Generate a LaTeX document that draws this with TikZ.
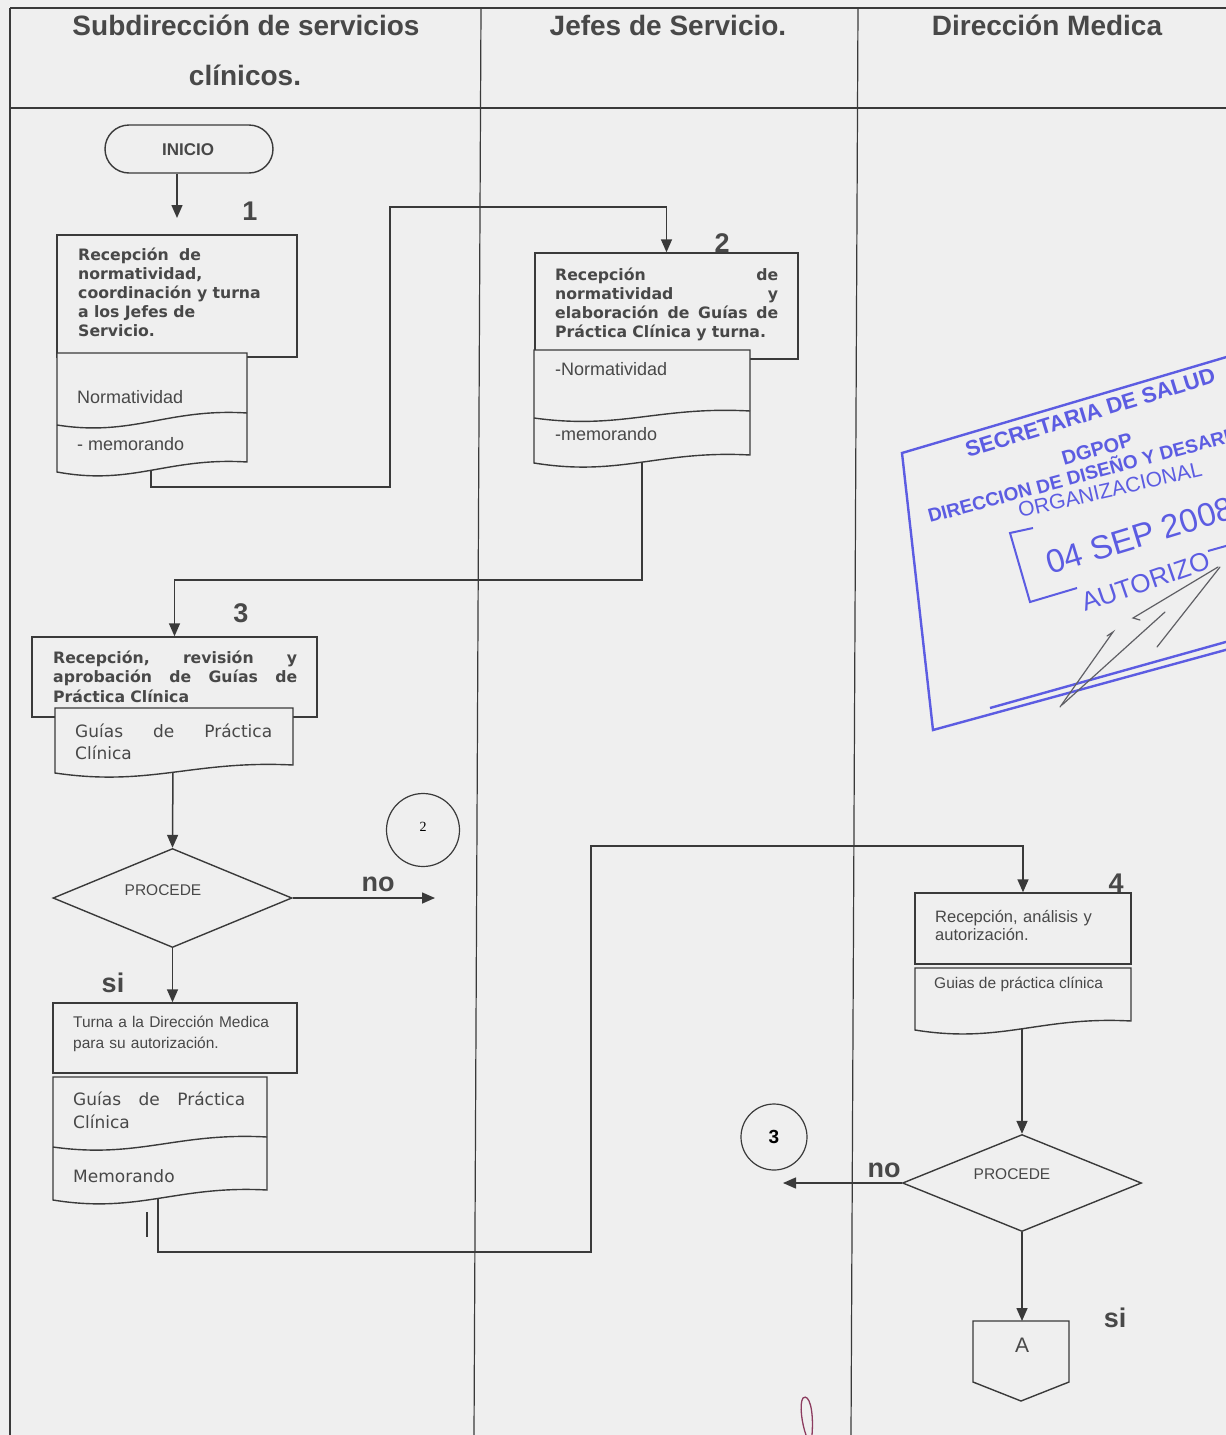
\documentclass[tikz,border=0pt]{standalone}
\usepackage{fontspec}
\setmainfont{Liberation Sans}
\newfontfamily\dejavu{DejaVu Sans}
\newfontfamily\libserif{Liberation Serif}
\usetikzlibrary{shapes.geometric,arrows.meta}
\definecolor{paper}{RGB}{239,239,239}
\definecolor{ink}{RGB}{58,58,58}
\definecolor{txt}{RGB}{72,72,72}
\definecolor{stampblue}{RGB}{92,92,226}
\definecolor{pencil}{RGB}{95,95,100}
\definecolor{redpen}{RGB}{140,60,95}
\pgfdeclarelayer{back}
\pgfsetlayers{back,main}
\newcommand\fsz[2]{\fontsize{#1}{#2}\selectfont}
\newcommand\jline[2]{\leavevmode\hbox to #1{#2}}
\newcommand\docshape[5]{\path[shp] (#1,#3) -- (#2,#3) -- (#2,#5) .. controls ({#2-0.42*(#2-#1)},{#5-5}) and ({#1+0.4*(#2-#1)},{#4+14}) .. (#1,#4) -- cycle;}
\newcommand\docdiv[4]{\draw[shpline] (#1,#3) .. controls ({#1+0.4*(#2-#1)},{#3+12}) and ({#2-0.42*(#2-#1)},{#4-5}) .. (#2,#4);}
\begin{document}
\begin{tikzpicture}[x=1pt,y=-1pt,
  shp/.style={draw=ink,line width=1.4pt,fill=paper},
  shpline/.style={draw=ink,line width=1.4pt},
  conn/.style={draw=ink,line width=1.5pt,-{Triangle[length=13pt,width=11pt]}},
  plain/.style={draw=ink,line width=1.5pt},
  grid/.style={draw=ink,line width=1.2pt},
  hdr/.style={font=\bfseries\fsz{28}{34},text=txt,inner sep=0},
  lbl/.style={font=\bfseries\fsz{27}{30},text=txt,inner sep=0},
  boldtxt/.style={font=\dejavu\bfseries\fsz{15.7}{19},text=txt,inner sep=0,align=left,anchor=base west},
  vertxt/.style={font=\dejavu\fsz{17}{22},text=txt,inner sep=0,align=left,anchor=base west},
  ariatxt/.style={font=\fsz{18}{21},text=txt,inner sep=0,align=left,anchor=base west},
  smalltxt/.style={font=\fsz{15.5}{21},text=txt,inner sep=0,align=left,anchor=base west},
  stamp/.style={text=stampblue,inner sep=0,anchor=base west},
  sig/.style={draw=pencil,line width=1.2pt,line cap=round},
  stline/.style={draw=stampblue,line width=2.4pt}]
\useasboundingbox (0,0) rectangle (1226,1435);

% ---------------- nodes (shapes) ----------------
\node[shp,rounded corners=24pt,minimum width=168pt,minimum height=48pt,inner sep=0] (inicio) at (189,149) {};
\node[font=\bfseries\fsz{17}{20},text=txt] (inicioT) at (188,150) {INICIO};

\node[shp,minimum width=240pt,minimum height=122pt,inner sep=0] (b1) at (177,296) {};
\node[shp,minimum width=263pt,minimum height=106pt,inner sep=0] (b2) at (666.5,306) {};
\node[shp,minimum width=285pt,minimum height=80pt,inner sep=0] (b3) at (174.5,677) {};
\node[shp,minimum width=244pt,minimum height=70pt,inner sep=0] (b5) at (175,1038) {};
\node[shp,minimum width=216pt,minimum height=71pt,inner sep=0] (b4) at (1023,928.5) {};

% documents (drawn over the boxes)
\docshape{57}{247}{353}{472}{462}
\docdiv{57}{247}{425}{413}
\docshape{534}{750}{350}{463}{455}
\docdiv{534}{750}{418}{411}
\docshape{55}{293}{708}{773}{765}
\docshape{53}{267}{1077}{1200}{1190}
\docdiv{53}{267}{1147}{1137}
\docshape{915}{1131}{968}{1030}{1021}

\node[shp,diamond,minimum width=239pt,minimum height=99pt,inner sep=0,aspect=2.4] (dia1) at (172.5,898) {};
\node[shp,diamond,minimum width=239pt,minimum height=97pt,inner sep=0,aspect=2.4] (dia2) at (1022,1183) {};

\node[shp,circle,minimum size=73pt,inner sep=0,line width=1.2pt] (cir2) at (423,830) {\raisebox{6pt}{\libserif\fsz{14}{14}2}};
\node[shp,circle,minimum size=66pt,inner sep=0,line width=1.2pt] (cir3) at (774,1137) {\bfseries\fsz{19}{19}3};

\path[shp] (973,1321) -- (1069,1321) -- (1069,1382) -- (1021,1401) -- (973,1382) -- cycle;
\node[font=\fsz{21}{21},text=txt,inner sep=0] (offA) at (1022,1345) {A};
\coordinate (Atop) at (1022,1321);

% ---------------- texts ----------------
\node[boldtxt,text width=205pt] (t1) at (78,260.5) {Recepción\ \ de\\normatividad,\\coordinación y turna\\a los Jefes de\\Servicio.};
\node[boldtxt,text width=224pt] (t2) at (555,280) {\jline{223pt}{Recepción\hfill de}\\\jline{223pt}{normatividad\hfill y}\\\jline{223pt}{elaboración\hfill de\hfill Guías\hfill de}\\Práctica Clínica y turna.};
\node[boldtxt,text width=245pt,font=\dejavu\bfseries\fsz{15.7}{19.5}] (t3) at (53,663) {\jline{244pt}{Recepción,\hfill revisión\hfill y}\\\jline{244pt}{aprobación\hfill de\hfill Guías\hfill de}\\Práctica Clínica};

\node[ariatxt] (n1a) at (77,403) {Normatividad};
\node[ariatxt] (n1b) at (77,450) {- memorando};
\node[ariatxt] (n2a) at (555,375) {-Normatividad};
\node[ariatxt] (n2b) at (555,440) {-memorando};

\node[vertxt,text width=198pt] (n3) at (75,737) {\jline{197pt}{Guías\hfill de\hfill Práctica}\\Clínica};

\node[font=\fsz{15.5}{15.5},text=txt] (p1) at (163,890) {PROCEDE};
\node[font=\fsz{15.5}{15.5},text=txt] (p2) at (1012,1174) {PROCEDE};

\node[smalltxt,text width=220pt] (t5) at (73,1027) {Turna a la Dirección Medica\\para su autorización.};
\node[vertxt,text width=173pt,font=\dejavu\fsz{17}{23}] (n5) at (73,1105) {\jline{172pt}{Guías\hfill de\hfill Práctica}\\Clínica};
\node[vertxt] (n5b) at (73,1182) {Memorando};

\node[ariatxt,text width=190pt,font=\fsz{16.5}{18.5}] (t4) at (935,922) {Recepción, análisis y\\autorización.};
\node[smalltxt] (n4) at (934,988) {Guias de práctica clínica};

% step numbers and labels
\node[lbl] (l1) at (250,211) {1};
\node[lbl] (l2) at (722,243) {2};
\node[lbl] (l3) at (241,613) {3};
\node[lbl] (l4) at (1116,883) {4};
\node[lbl] (no1) at (378,884) {no};
\node[lbl] (si1) at (113,983) {si};
\node[lbl] (no2) at (884,1170) {no};
\node[lbl] (si2) at (1115,1318) {si};

% header
\node[hdr] (h1) at (246,25) {Subdirección de servicios};
\node[hdr] (h1b) at (245,75) {clínicos.};
\node[hdr] (h2) at (668,25) {Jefes de Servicio.};
\node[hdr] (h3) at (1047,25) {Dirección Medica};

% ---------------- background layer ----------------
\begin{pgfonlayer}{back}
\fill[paper] (0,0) rectangle (1226,1435);
\draw[grid] (10,8) -- (1226,8);
\draw[grid] (10,108) -- (1226,108);
\draw[grid] (10,8) -- (10,1435);
\draw[grid] (481,8) -- (474,1435);
\draw[grid] (858,8) -- (851,1435);

\coordinate (a1end) at (177,218);
\coordinate (d1out) at (151,460);
\coordinate (d2out) at (642,440);
\coordinate (d3out) at (173,760);
\coordinate (d5out) at (158,1180);
\coordinate (d4out) at (1022,1010);
\coordinate (no1end) at (435,898);
\coordinate (no2end) at (783,1183);

\draw[conn] (inicio.south -| b1.north) -- (a1end);
\draw[conn] (d1out) |- (390,487) -- (390,207) -| (b2.north);
\draw[conn] (d2out) -- (642,580) -| (b3.north);
\draw[conn] (d3out) -- (dia1.north);
\draw[conn] (dia1.east) -- (no1end);
\draw[conn] (dia1.south) -- (dia1.south |- b5.north);
\draw[conn] (d5out) |- (591,1252) -- (591,846) -| (b4.north);
\draw[conn] (d4out) -- (dia2.north);
\draw[conn] (dia2.west) -- (no2end);
\draw[conn] (dia2.south) -- (Atop);
\draw[plain] (147,1212) -- (147,1237);
\end{pgfonlayer}

% ---------------- stamp ----------------
\begin{scope}
\clip (0,0) rectangle (1226,1435);
\draw[stline] (1240,353) -- (902,453) -- (933,730) -- (1240,646);
\draw[stline] (990,708) -- (1240,638);
\draw[stline,line width=2pt] (1033,528) -- (1010,533) -- (1030,602) -- (1077,588);
\draw[stline,line width=2pt] (1208,551) -- (1240,542);
\node[stamp,rotate=17,font=\bfseries\fsz{22}{22}] (st1) at (968,458) {SECRETARIA DE SALUD};
\node[stamp,rotate=16,font=\bfseries\fsz{20}{20}] (st2) at (1064,466) {DGPOP};
\node[stamp,rotate=15,font=\bfseries\fsz{19}{19}] (st3) at (930,523) {DIRECCION DE DISEÑO Y DESARROLLO};
\node[stamp,rotate=13,font=\fsz{21}{21}] (st4) at (1020,518) {ORGANIZACIONAL};
\node[stamp,rotate=17,font=\fsz{33}{33}] (st5) at (1050,575) {04 SEP 2008};
\node[stamp,rotate=19,font=\fsz{26}{26}] (st6) at (1085,612) {AUTORIZO};
% signature
\draw[sig] (1060,707) -- (1113,632) -- (1107,636);
\draw[sig] (1062,705) -- (1165,612);
\draw[sig] (1140,620) -- (1133,618) -- (1218,567);
\draw[sig] (1157,647) -- (1220,567);
\end{scope}
% pen mark at the bottom
\draw[draw=redpen,line width=1.3pt] (812,1435) .. controls (814,1410) and (809,1393) .. (803,1398) .. controls (799,1404) and (802,1424) .. (806,1435);
\end{tikzpicture}
\end{document}
